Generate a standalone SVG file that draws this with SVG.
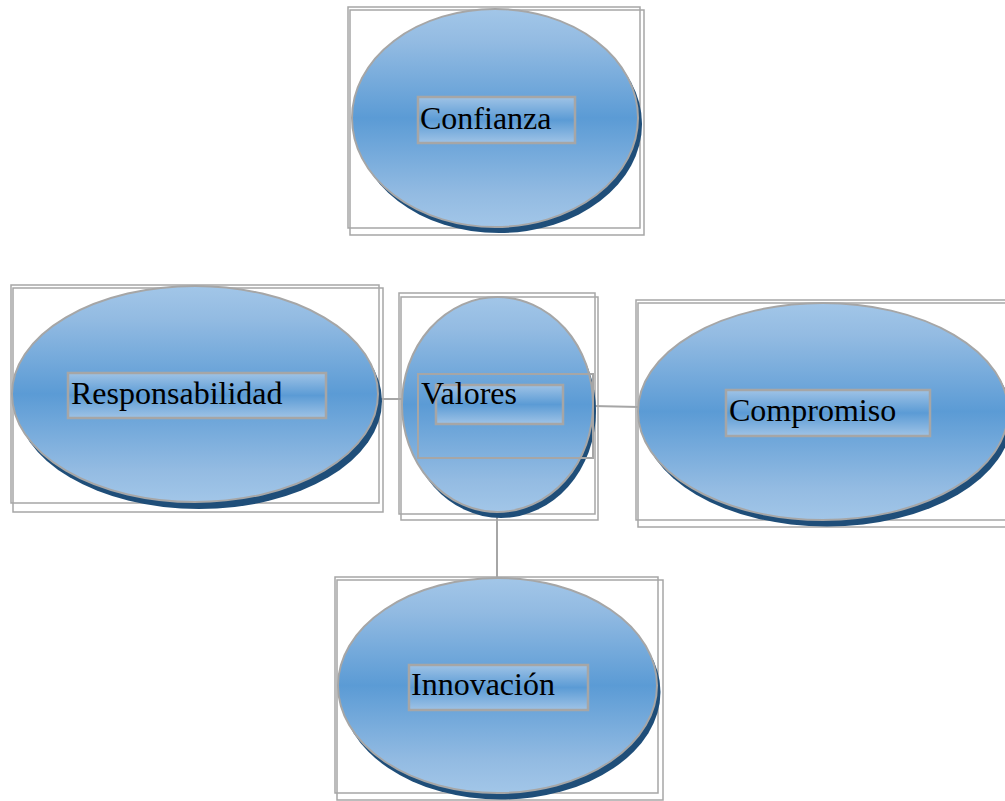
<svg xmlns="http://www.w3.org/2000/svg" width="1005" height="801" viewBox="0 0 1005 801">
<defs>
<linearGradient id="eg" x1="0" y1="0" x2="0" y2="1">
<stop offset="0" stop-color="#a2c6e8"/>
<stop offset="0.15" stop-color="#93bbe2"/>
<stop offset="0.5" stop-color="#5b9bd5"/>
<stop offset="0.85" stop-color="#93bbe2"/>
<stop offset="1" stop-color="#a2c6e8"/>
</linearGradient>
<linearGradient id="tg" x1="0" y1="0" x2="0" y2="1">
<stop offset="0" stop-color="#9fc3e6"/>
<stop offset="0.5" stop-color="#5b9bd5"/>
<stop offset="1" stop-color="#9fc3e6"/>
</linearGradient>
<style>
.frame{fill:none;stroke:#a6a6a6;stroke-width:1.5}
.shadow{fill:#1f4e79}
.ell{fill:url(#eg);stroke:#a6a6a6;stroke-width:2}
.tb{fill:url(#tg);stroke:#a6a6a6;stroke-width:2.5}
.tbo{fill:none;stroke:#a6a6a6;stroke-width:2}
.lbl{font-family:"Liberation Serif","Times New Roman",serif;font-size:32px;fill:#000}
.conn{stroke:#a6a6a6;stroke-width:2;fill:none}
</style>
</defs>
<rect width="1005" height="801" fill="#fff"/>
<g id="connectors">
<line class="conn" x1="378" y1="399" x2="403" y2="399"/>
<line class="conn" x1="593" y1="406" x2="639" y2="407"/>
<line class="conn" x1="497" y1="512" x2="497" y2="578"/>
</g>
<g id="node-confianza">
<rect class="frame" x="348" y="7" width="292" height="221"/>
<rect class="frame" x="350" y="10" width="294" height="225"/>
<ellipse class="shadow" cx="499" cy="124" rx="143" ry="109"/>
<ellipse class="ell" cx="495" cy="118" rx="143" ry="109"/>
<rect class="tb" x="418" y="97" width="157" height="46"/>
<text class="lbl" x="420" y="129">Confianza</text>
</g>
<g id="node-responsabilidad">
<rect class="frame" x="11" y="285" width="368" height="218"/>
<rect class="frame" x="13" y="288" width="370" height="224"/>
<ellipse class="shadow" cx="199" cy="401" rx="183" ry="108"/>
<ellipse class="ell" cx="195" cy="394" rx="183" ry="108"/>
<rect class="tb" x="68" y="373" width="258" height="45"/>
<text class="lbl" x="71" y="404">Responsabilidad</text>
</g>
<g id="node-valores">
<rect class="frame" x="399" y="293" width="196" height="221"/>
<rect class="frame" x="401" y="297" width="197" height="223"/>
<ellipse class="shadow" cx="501" cy="411" rx="95" ry="107"/>
<ellipse class="ell" cx="497.5" cy="404.5" rx="95.5" ry="107.5"/>
<rect class="tbo" x="418" y="374" width="175" height="84"/>
<rect class="tb" x="436" y="385" width="127" height="39"/>
<text class="lbl" x="421" y="404">Valores</text>
</g>
<g id="node-compromiso">
<rect class="frame" x="636" y="300" width="380" height="220"/>
<rect class="frame" x="638" y="303" width="380" height="224"/>
<ellipse class="shadow" cx="827" cy="418" rx="185" ry="108.5"/>
<ellipse class="ell" cx="823" cy="411.5" rx="185" ry="108.5"/>
<rect class="tb" x="726" y="390" width="204" height="46"/>
<text class="lbl" x="729" y="421">Compromiso</text>
</g>
<g id="node-innovacion">
<rect class="frame" x="335" y="577" width="323" height="216"/>
<rect class="frame" x="337" y="580" width="326" height="220"/>
<ellipse class="shadow" cx="501" cy="692" rx="159.5" ry="107.5"/>
<ellipse class="ell" cx="497.5" cy="685.5" rx="159.5" ry="107.5"/>
<rect class="tb" x="409" y="665" width="179" height="45"/>
<text class="lbl" x="411" y="695">Innovación</text>
</g>
</svg>
